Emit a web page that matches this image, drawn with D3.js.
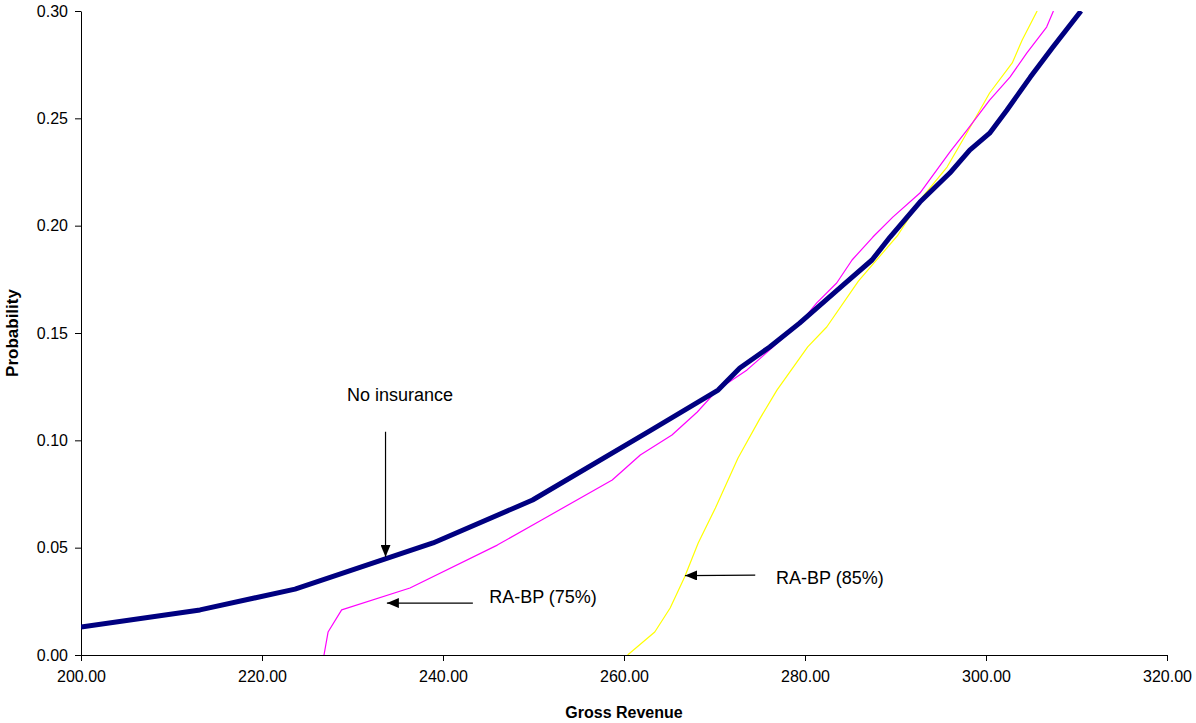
<!DOCTYPE html>
<html>
<head>
<meta charset="utf-8">
<script src="https://cdn.jsdelivr.net/npm/d3@7"></script>
<style>
  html, body { margin: 0; padding: 0; background: #fff; }
  svg { display: block; font-family: Arial, "Liberation Sans", sans-serif; }
</style>
</head>
<body>
<svg id="chart" width="1196" height="723"></svg>
<script>
// ---- Data ----
const xTicks = [200, 220, 240, 260, 280, 300, 320];
const yTicks = [0, 0.05, 0.10, 0.15, 0.20, 0.25, 0.30];

const noInsuranceX = [200.0, 213.15, 223.65, 238.9, 249.9, 262.9, 270.4, 272.8, 276.1, 279.4, 284.2, 287.4, 289.4, 292.7, 296.0, 298.2, 300.4, 302.3, 304.9, 307.4, 310.5];
const noInsuranceY = [0.0130, 0.0210, 0.0307, 0.0522, 0.0722, 0.1045, 0.1234, 0.1337, 0.1435, 0.1546, 0.1723, 0.1840, 0.1947, 0.2110, 0.2245, 0.2352, 0.2431, 0.2538, 0.2692, 0.2832, 0.3000];

const rabp75X = [226.85, 227.3, 228.8, 236.35, 246.0, 250.9, 258.7, 261.8, 265.3, 268.1, 270.3, 273.6, 279.45, 281.3, 283.5, 285.2, 287.5, 289.7, 292.7, 296.0, 297.9, 300.4, 302.65, 304.5, 306.7, 307.45];
const rabp75Y = [0.0, 0.0107, 0.0210, 0.0312, 0.0512, 0.0629, 0.0815, 0.0932, 0.1025, 0.1132, 0.1234, 0.1328, 0.1546, 0.1640, 0.1733, 0.1840, 0.1947, 0.2040, 0.2152, 0.2343, 0.2445, 0.2585, 0.2692, 0.2804, 0.2925, 0.3000];

const rabp85X = [260.4, 263.4, 265.1, 266.7, 268.2, 270.1, 272.6, 275.0, 276.9, 280.3, 282.4, 285.9, 287.7, 290.2, 292.9, 295.7, 298.2, 300.4, 302.9, 304.0, 305.65];
const rabp85Y = [0.0, 0.0107, 0.0219, 0.0363, 0.0522, 0.0685, 0.0918, 0.1100, 0.1234, 0.1435, 0.1528, 0.1742, 0.1830, 0.1952, 0.2129, 0.2273, 0.2455, 0.2618, 0.2758, 0.2865, 0.3000];

// annotation: label, text anchor (data), arrow start (data), arrow tip (data)
const annotations = [
  { text: "No insurance", tx: 229.4, ty: 0.1205, x1: 233.65, y1: 0.1040, x2: 233.65, y2: 0.0457 },
  { text: "RA-BP (75%)",  tx: 245.1, ty: 0.0265, x1: 243.3, y1: 0.0242, x2: 233.8, y2: 0.0242 },
  { text: "RA-BP (85%)",  tx: 276.8, ty: 0.0355, x1: 274.5, y1: 0.0372, x2: 266.75, y2: 0.0370 }
];

// ---- Layout ----
const svg = d3.select("#chart");
const mLeft = 81, mRight = 1167, mTop = 11, mBottom = 655;

const x = d3.scaleLinear().domain([200, 320]).range([mLeft, mRight]);
const y = d3.scaleLinear().domain([0, 0.30]).range([mBottom, mTop]);

const defs = svg.append("defs");
defs.append("clipPath").attr("id", "plotclip")
  .append("rect").attr("x", mLeft).attr("y", mTop).attr("width", mRight - mLeft + 30).attr("height", mBottom - mTop);

defs.append("marker")
  .attr("id", "arrowhead")
  .attr("viewBox", "0 0 12 10")
  .attr("refX", 12).attr("refY", 5)
  .attr("markerWidth", 12).attr("markerHeight", 10)
  .attr("markerUnits", "userSpaceOnUse")
  .attr("orient", "auto")
  .append("path").attr("d", "M0,0 L12,5 L0,10 Z").attr("fill", "#000");

// ---- Axes ----
const xAxis = d3.axisBottom(x).tickValues(xTicks).tickFormat(d3.format(".2f")).tickSize(6).tickSizeOuter(0);
const gx = svg.append("g").attr("transform", `translate(0,${mBottom})`).call(xAxis);
gx.selectAll("text").attr("font-size", 16).attr("font-family", "Arial, 'Liberation Sans', sans-serif").attr("fill", "#000").attr("dy", "1.15em");
gx.selectAll("line, path").attr("stroke", "#000");

const yAxis = d3.axisLeft(y).tickValues(yTicks).tickFormat(d3.format(".2f")).tickSize(6).tickSizeOuter(0);
const gy = svg.append("g").attr("transform", `translate(${mLeft},0)`).call(yAxis);
gy.selectAll("text").attr("font-size", 16).attr("font-family", "Arial, 'Liberation Sans', sans-serif").attr("fill", "#000").attr("x", -13);
gy.selectAll("line, path").attr("stroke", "#000");

svg.append("text").attr("x", (mLeft + mRight) / 2).attr("y", 718)
  .attr("text-anchor", "middle").attr("font-size", 16).attr("font-weight", "bold").text("Gross Revenue");

svg.append("text").attr("transform", `translate(18,${(mTop + mBottom) / 2}) rotate(-90)`)
  .attr("text-anchor", "middle").attr("font-size", 17).attr("font-weight", "bold").text("Probability");

// ---- Lines ----
const line = d3.line().x(d => x(d[0])).y(d => y(d[1]));
const plot = svg.append("g").attr("clip-path", "url(#plotclip)");

const series = [
  { xs: rabp85X, ys: rabp85Y, color: "#FFFF00", width: 1.2 },
  { xs: rabp75X, ys: rabp75Y, color: "#FF00FF", width: 1.2 },
  { xs: noInsuranceX, ys: noInsuranceY, color: "#000080", width: 5 }
];
series.forEach(s => {
  plot.append("path")
    .datum(d3.zip(s.xs, s.ys))
    .attr("fill", "none")
    .attr("stroke", s.color)
    .attr("stroke-width", s.width)
    .attr("stroke-linejoin", "round")
    .attr("d", line);
});

// ---- Annotations ----
annotations.forEach(a => {
  svg.append("line")
    .attr("x1", x(a.x1)).attr("y1", y(a.y1))
    .attr("x2", x(a.x2)).attr("y2", y(a.y2))
    .attr("stroke", "#000").attr("stroke-width", 1.2)
    .attr("marker-end", "url(#arrowhead)");
  svg.append("text")
    .attr("x", x(a.tx)).attr("y", y(a.ty))
    .attr("font-size", 18).attr("fill", "#000")
    .attr("dominant-baseline", "middle")
    .text(a.text);
});
</script>
</body>
</html>
